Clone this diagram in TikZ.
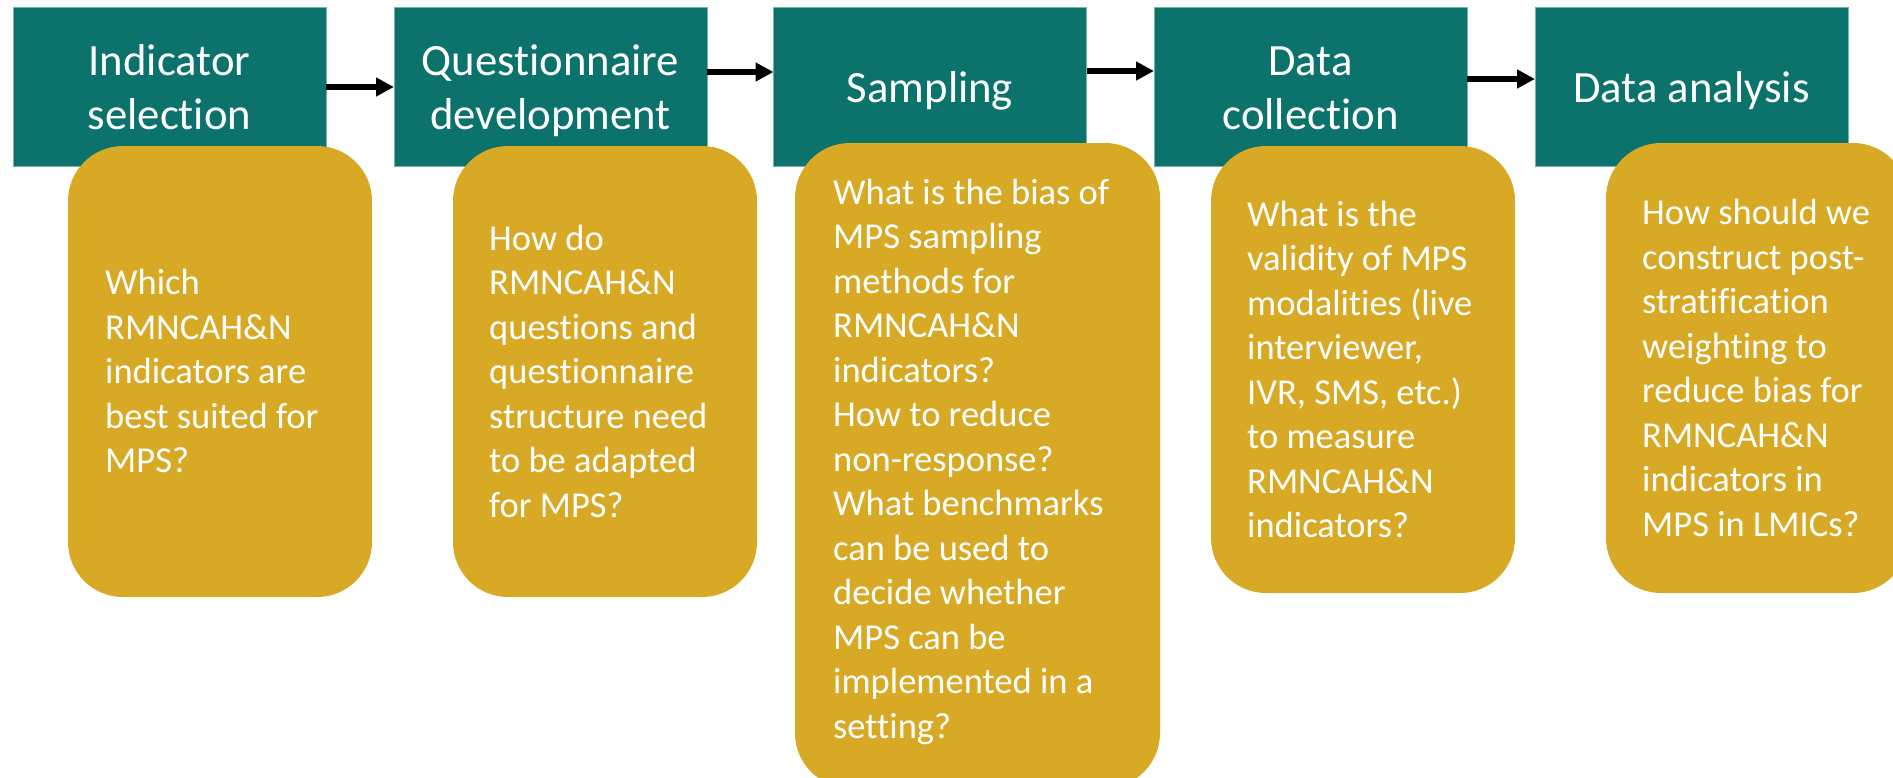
\documentclass[tikz,border=0pt]{standalone}
\usepackage{fontspec}
\setmainfont{Carlito}[Ligatures={NoCommon}]
\usetikzlibrary{arrows.meta}
\definecolor{tealbox}{RGB}{11,114,108}
\definecolor{goldbox}{RGB}{216,169,36}
\newcommand\tealstrut{\rule[-10pt]{0pt}{51pt}}
\newcommand\goldstrut{\rule[-9.5pt]{0pt}{43.5pt}}
\begin{document}
\begin{tikzpicture}[x=1pt,y=-1pt,
  stage/.style={rectangle, fill=tealbox, draw=tealbox!55!white, line width=0.8pt,
    minimum width=313pt, minimum height=159pt, inner sep=0pt, outer sep=0pt,
    text=white, align=center, font=\fontsize{44.7pt}{54pt}\selectfont},
  qbox/.style={rectangle, rounded corners=55pt, fill=goldbox, inner sep=0pt, outer sep=0pt},
  qtext/.style={anchor=west, align=left, inner sep=0pt, text=white,
    font=\fontsize{36.5pt}{44.5pt}\selectfont},
  flow/.style={line width=6.5pt, -{Triangle[length=18pt,width=18pt]}, black}
]
\useasboundingbox (0,0) rectangle (1893,777);
\clip (0,0) rectangle (1893,777);
\fill[white] (0,0) rectangle (1893,777);

% stage boxes
\node[stage] (t1) at (169.5,86.5) {\tealstrut Indicator\\\tealstrut selection};
\node[stage] (t2) at (550.5,86.5) {\tealstrut Questionnaire\\\tealstrut development};
\node[stage] (t3) at (930,86.5) {\tealstrut Sampling};
\node[stage] (t4) at (1310.5,86.5) {\tealstrut Data\\\tealstrut collection};
\node[stage] (t5) at (1691.5,86.5) {\tealstrut Data analysis};

% arrows
\draw[flow] ([yshift=-0.5pt]t1.east) -- ([yshift=-0.5pt]t2.west);
\draw[flow] ([yshift=14.5pt]t2.east) -- ([yshift=14.5pt]t3.west);
\draw[flow] ([yshift=15.5pt]t3.east) -- ([yshift=15.5pt]t4.west);
\draw[flow] ([yshift=7.5pt]t4.east) -- ([yshift=7.5pt]t5.west);

% question boxes
\node[qbox, minimum width=304pt, minimum height=451pt] (g1) at (220,371.5) {};
\node[qbox, minimum width=304pt, minimum height=451pt] (g2) at (605,371.5) {};
\node[qbox, minimum width=365pt, minimum height=645pt] (g3) at (977.5,465.5) {};
\node[qbox, minimum width=304pt, minimum height=447pt] (g4) at (1363,369.5) {};
\node[qbox, minimum width=302pt, minimum height=450pt] (g5) at (1757,368) {};

\node[qtext] (q1) at ([xshift=37pt]g1.west) {\goldstrut Which\\\goldstrut RMNCAH\&N\\\goldstrut indicators are\\\goldstrut best suited for\\\goldstrut MPS?};
\node[qtext] (q2) at ([xshift=36pt]g2.west) {\goldstrut How do\\\goldstrut RMNCAH\&N\\\goldstrut questions and\\\goldstrut questionnaire\\\goldstrut structure need\\\goldstrut to be adapted\\\goldstrut for MPS?};
\node[qtext] (q3) at ([xshift=38pt,yshift=6.5pt]g3.west) {\goldstrut What is the bias of\\\goldstrut MPS sampling\\\goldstrut methods for\\\goldstrut RMNCAH\&N\\\goldstrut indicators?\\\goldstrut How to reduce\\\goldstrut non-response?\\\goldstrut What benchmarks\\\goldstrut can be used to\\\goldstrut decide whether\\\goldstrut MPS can be\\\goldstrut implemented in a\\\goldstrut setting?};
\node[qtext] (q4) at ([xshift=36pt]g4.west) {\goldstrut What is the\\\goldstrut validity of MPS\\\goldstrut modalities (live\\\goldstrut interviewer,\\\goldstrut IVR, SMS, etc.)\\\goldstrut to measure\\\goldstrut RMNCAH\&N\\\goldstrut indicators?};
\node[qtext] (q5) at ([xshift=36pt]g5.west) {\goldstrut How should we\\\goldstrut construct post-\\\goldstrut stratification\\\goldstrut weighting to\\\goldstrut reduce bias for\\\goldstrut RMNCAH\&N\\\goldstrut indicators in\\\goldstrut MPS in LMICs?};
\end{tikzpicture}
\end{document}
